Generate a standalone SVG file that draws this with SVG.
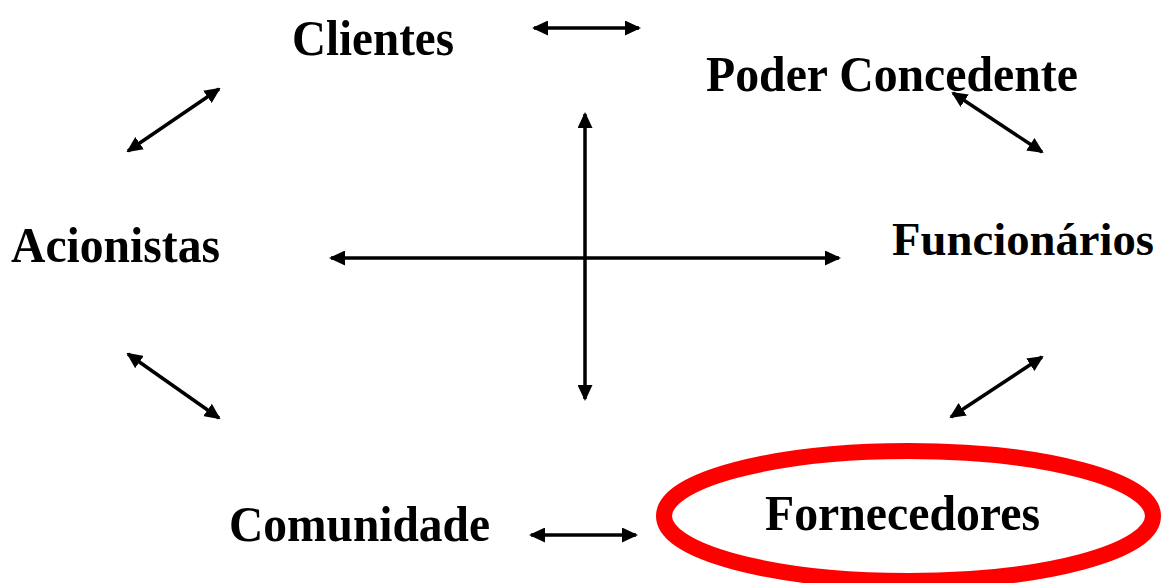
<svg xmlns="http://www.w3.org/2000/svg" width="1163" height="583" viewBox="0 0 1163 583">
<style>
.lbl{font-family:"Liberation Serif","Times New Roman",serif;font-weight:bold;font-size:51px;fill:#000}
.arr{stroke:#000;stroke-width:3.5;fill:none;marker-start:url(#ah);marker-end:url(#ah)}
</style>
<defs>
<marker id="ah" viewBox="0 0 16 15" refX="14" refY="7.5" markerWidth="16" markerHeight="15" markerUnits="userSpaceOnUse" orient="auto-start-reverse">
<path d="M0,0 L16,7.5 L0,15 Z" fill="#000"/>
</marker>
</defs>
<rect width="1163" height="583" fill="#fff"/>
<g id="connectors">
<line class="arr" x1="534" y1="28" x2="639" y2="28"/>
<line class="arr" x1="128" y1="151" x2="219" y2="89"/>
<line class="arr" x1="953" y1="93" x2="1042" y2="152"/>
<line class="arr" x1="331" y1="258" x2="839" y2="258"/>
<line class="arr" x1="585" y1="114" x2="585" y2="399"/>
<line class="arr" x1="128" y1="354" x2="219" y2="418"/>
<line class="arr" x1="951" y1="417" x2="1042" y2="357"/>
<line class="arr" x1="531" y1="535" x2="636" y2="535"/>
</g>
<g id="clientes"><text class="lbl" x="292" y="55" textLength="162" lengthAdjust="spacingAndGlyphs">Clientes</text></g>
<g id="poder-concedente"><text class="lbl" x="706" y="91" textLength="372" lengthAdjust="spacingAndGlyphs">Poder Concedente</text></g>
<g id="acionistas"><text class="lbl" x="11" y="262" textLength="209" lengthAdjust="spacingAndGlyphs">Acionistas</text></g>
<g id="funcionarios"><text class="lbl" x="892" y="255" style="font-size:47px" textLength="262" lengthAdjust="spacingAndGlyphs">Funcionários</text></g>
<g id="comunidade"><text class="lbl" x="229" y="541" textLength="261" lengthAdjust="spacingAndGlyphs">Comunidade</text></g>
<g id="fornecedores">
<ellipse cx="908.5" cy="516" rx="244.5" ry="65" fill="none" stroke="#ff0000" stroke-width="16"/>
<text class="lbl" x="765" y="530" textLength="275" lengthAdjust="spacingAndGlyphs">Fornecedores</text>
</g>
</svg>
